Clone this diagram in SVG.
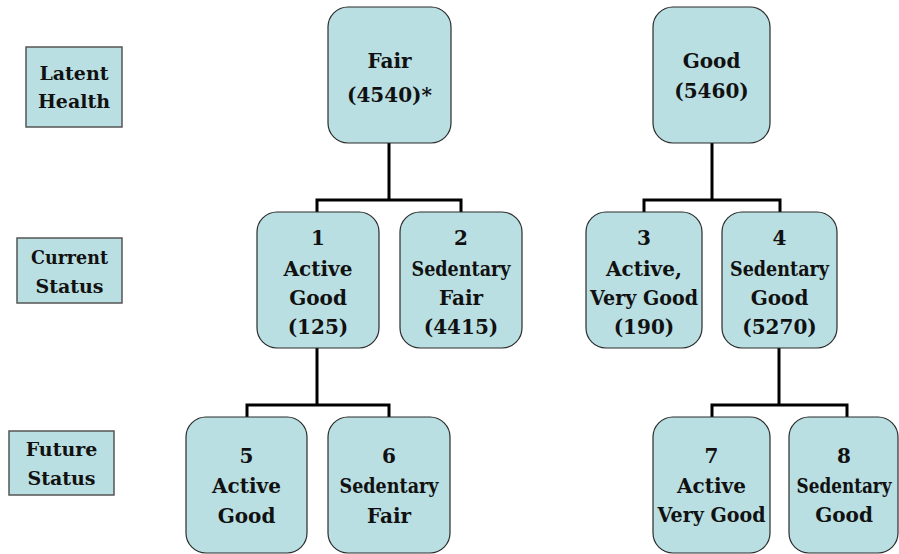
<svg xmlns="http://www.w3.org/2000/svg" width="899" height="554" viewBox="0 0 899 554">
<style>
.n{fill:#b9dfe2;stroke:#2b2b2b;stroke-width:1.2}
.l{fill:#b9dfe2;stroke:#555;stroke-width:1.5}
.t{font-size:20px}
.s{font-size:19px}
.c{fill:none;stroke:#000;stroke-width:3}
</style>
<rect width="899" height="554" fill="#fff"/>
<g id="connectors">
<path class="c" d="M389 143V200M317 212V200H461V212"/>
<path class="c" d="M712 143V200M644 212V200H780V212"/>
<path class="c" d="M317 348V405M247 417V405H389V417"/>
<path class="c" d="M779 348V405M712 417V405H847V417"/>
</g>
<g font-family="'DejaVu Serif', serif" font-weight="bold" fill="#111" text-anchor="middle">
<g id="label-latent"><rect class="l" x="26" y="47" width="96" height="80"/><text class="s" x="74" y="80">Latent</text><text class="s" x="74" y="108">Health</text></g>
<g id="label-current"><rect class="l" x="17" y="238" width="105" height="65"/><text class="s" x="69.5" y="264" textLength="77" lengthAdjust="spacingAndGlyphs">Current</text><text class="s" x="69.5" y="293">Status</text></g>
<g id="label-future"><rect class="l" x="9" y="431" width="105" height="64"/><text class="s" x="61.5" y="456">Future</text><text class="s" x="61.5" y="485">Status</text></g>
<g id="fair"><rect class="n" x="328" y="7" width="123" height="136" rx="20"/><text class="t" x="389.5" y="68">Fair</text><text class="t" x="389.5" y="102">(4540)*</text></g>
<g id="good"><rect class="n" x="653" y="7" width="117" height="136" rx="20"/><text class="t" x="711.5" y="68">Good</text><text class="t" x="711.5" y="98">(5460)</text></g>
<g id="n1"><rect class="n" x="257" y="212" width="122" height="136" rx="20"/><text class="t" x="318" y="245">1</text><text class="t" x="318" y="276">Active</text><text class="t" x="318" y="305">Good</text><text class="t" x="318" y="334">(125)</text></g>
<g id="n2"><rect class="n" x="400" y="212" width="122" height="136" rx="20"/><text class="t" x="461" y="245">2</text><text class="t" x="461" y="276" textLength="99" lengthAdjust="spacingAndGlyphs">Sedentary</text><text class="t" x="461" y="305">Fair</text><text class="t" x="461" y="334">(4415)</text></g>
<g id="n3"><rect class="n" x="586" y="212" width="116" height="136" rx="20"/><text class="t" x="644" y="245">3</text><text class="t" x="644" y="276">Active,</text><text class="t" x="644" y="305" textLength="108" lengthAdjust="spacingAndGlyphs">Very Good</text><text class="t" x="644" y="334">(190)</text></g>
<g id="n4"><rect class="n" x="722" y="212" width="115" height="136" rx="20"/><text class="t" x="779.5" y="245">4</text><text class="t" x="779.5" y="276" textLength="99" lengthAdjust="spacingAndGlyphs">Sedentary</text><text class="t" x="779.5" y="305">Good</text><text class="t" x="779.5" y="334">(5270)</text></g>
<g id="n5"><rect class="n" x="186" y="417" width="121" height="136" rx="20"/><text class="t" x="246.5" y="463">5</text><text class="t" x="246.5" y="493">Active</text><text class="t" x="246.5" y="523">Good</text></g>
<g id="n6"><rect class="n" x="328" y="417" width="122" height="136" rx="20"/><text class="t" x="389" y="463">6</text><text class="t" x="389" y="493" textLength="99" lengthAdjust="spacingAndGlyphs">Sedentary</text><text class="t" x="389" y="523">Fair</text></g>
<g id="n7"><rect class="n" x="653" y="417" width="117" height="136" rx="20"/><text class="t" x="711.5" y="463">7</text><text class="t" x="711.5" y="493">Active</text><text class="t" x="711.5" y="522" textLength="108" lengthAdjust="spacingAndGlyphs">Very Good</text></g>
<g id="n8"><rect class="n" x="789" y="417" width="109" height="136" rx="20"/><text class="t" x="844" y="463">8</text><text class="t" x="844" y="493" textLength="95" lengthAdjust="spacingAndGlyphs">Sedentary</text><text class="t" x="844" y="522">Good</text></g>
</g>
</svg>
